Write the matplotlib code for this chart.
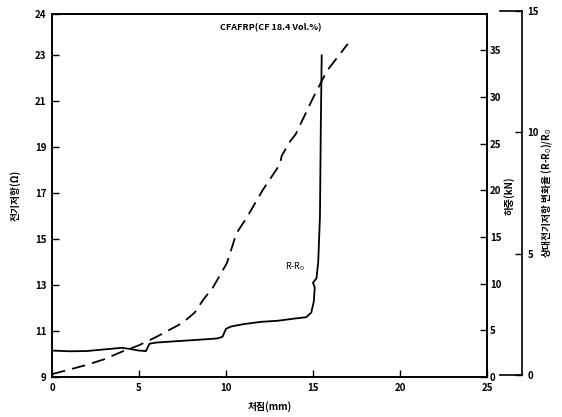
import matplotlib
matplotlib.use("Agg")
import matplotlib.pyplot as plt

plt.rcParams['font.family'] = ['Noto Sans CJK KR', 'DejaVu Sans']

# Resistance curve (left axis, ohm) vs deflection (mm)
res_x = [0, 1, 2, 3, 4, 4.5, 5.0, 5.4, 5.6, 6, 7, 8, 9, 9.5, 9.8, 10.0, 10.3, 11, 12, 13, 14, 14.6,
         14.9, 15.05, 15.1, 15.0, 15.2, 15.3, 15.4, 15.45, 15.5]
res_y = [10.15, 10.12, 10.13, 10.2, 10.27, 10.22, 10.15, 10.13, 10.45, 10.5, 10.55, 10.6, 10.65, 10.68,
         10.75, 11.1, 11.2, 11.3, 11.4, 11.45, 11.55, 11.6, 11.8, 12.3, 12.9, 13.1, 13.3, 14.0, 16.0,
         20.0, 23.0]

# Load curve (middle right axis, kN) vs deflection (mm)
load_x = [0, 1, 2, 3, 4, 5.0, 6.0, 7.5, 8.2, 8.7, 9.25, 10.05, 10.6, 11.2, 12.1, 13.1, 13.2, 13.7, 14.0,
          15.0, 15.8, 17.0]
load_y = [0.3, 0.8, 1.3, 1.9, 2.7, 3.4, 4.3, 5.8, 6.9, 8.3, 9.6, 12.2, 15.4, 17.1, 20.0, 22.8, 23.7, 25.3,
          26.0, 29.9, 32.8, 35.7]

x_ticks = [0, 5, 10, 15, 20, 25]
left_ticks = [9, 11, 13, 15, 17, 19, 21, 23, 24.8]
left_ticklabels = ['9', '11', '13', '15', '17', '19', '21', '23', '24']
load_ticks = [0, 5, 10, 15, 20, 25, 30, 35]
rel_ticks = [0, 5, 10, 15]

title = 'CFAFRP(CF 18.4 Vol.%)'

W, H = 562, 417
fig = plt.figure(figsize=(W / 100, H / 100), dpi=100)
ax = fig.add_axes([52 / W, (H - 377) / H, (487 - 52) / W, (377 - 14) / H])

tick_font = dict(fontsize=7, fontweight='bold')

ax.plot(res_x, res_y, color='black', lw=1.3)
ax.set_xlim(0, 25)
ax.set_ylim(9, 24.8)
ax.set_xticks(x_ticks)
ax.set_xticklabels([str(t) for t in x_ticks], **tick_font)
ax.set_yticks(left_ticks)
ax.set_yticklabels(left_ticklabels, **tick_font)
ax.tick_params(direction='in', length=5, width=1, pad=4)
ax.set_xlabel('처짐(mm)', fontsize=7, fontweight='bold', labelpad=6)
ax.set_ylabel('전기저항(Ω)', fontsize=7, fontweight='bold', labelpad=10)
for s in ax.spines.values():
    s.set_linewidth(1.2)
ax.text(12.6, 24.2, title, fontsize=6.5, fontweight='bold', ha='center', va='center')
ax.text(14.0, 13.8, 'R-R$_0$', fontsize=6.5, ha='center', va='center')

ax2 = ax.twinx()
ax2.plot(load_x, load_y, color='black', lw=1.3, dashes=(7.5, 4))
ax2.set_ylim(0, 38.9)
ax2.set_yticks(load_ticks)
ax2.set_yticklabels([str(t) for t in load_ticks], **tick_font)
ax2.tick_params(direction='in', length=5, width=1, pad=2)
ax2.set_ylabel('하중(kN)', fontsize=7, fontweight='bold', labelpad=2)
for s in ax2.spines.values():
    s.set_linewidth(1.2)

ax3 = fig.add_axes([500 / W, (H - 375) / H, (522 - 500) / W, (375 - 11) / H])
ax3.patch.set_alpha(0)
ax3.set_ylim(0, 15)
ax3.set_xticks([])
ax3.yaxis.tick_right()
ax3.yaxis.set_label_position('right')
ax3.set_yticks(rel_ticks)
ax3.set_yticklabels([str(t) for t in rel_ticks], **tick_font)
ax3.tick_params(direction='in', length=5, width=1, pad=4)
ax3.spines['left'].set_visible(False)
for s in ['right', 'top', 'bottom']:
    ax3.spines[s].set_linewidth(1.2)
ax3.set_ylabel('상대전기저항 변화율 (R-R$_0$)/R$_0$', fontsize=7, fontweight='bold', labelpad=0)

fig.savefig('out.png', dpi=100)
